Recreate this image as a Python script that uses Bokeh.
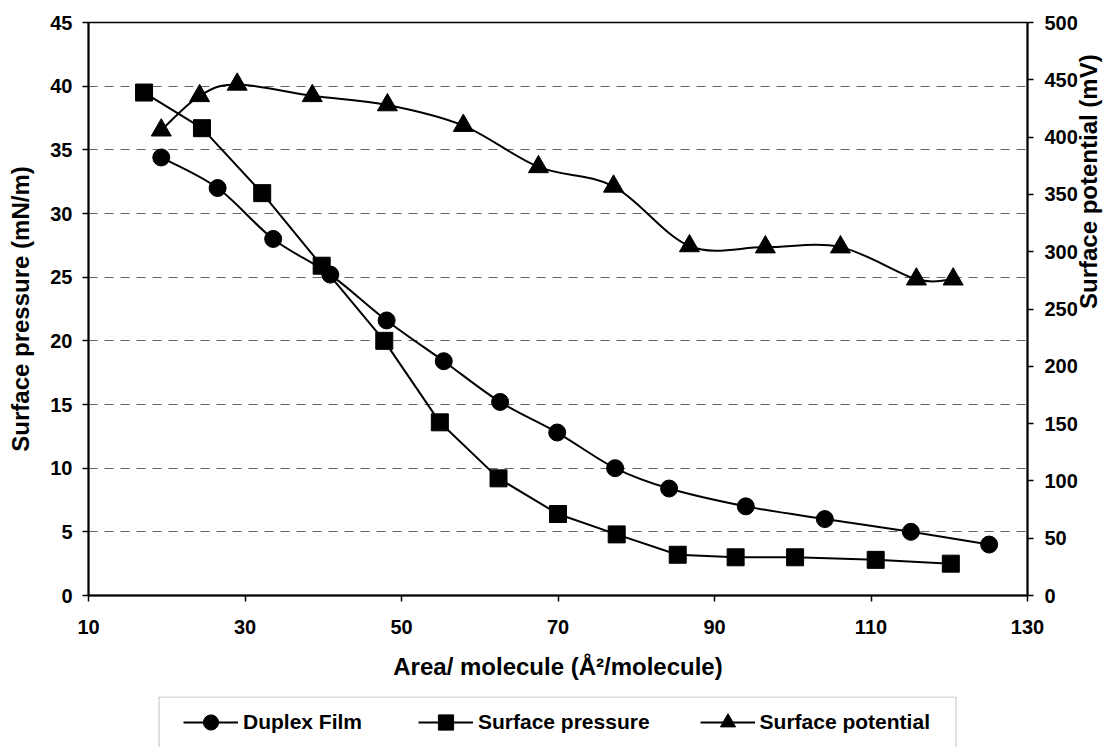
import math
from bokeh.plotting import figure
from bokeh.layouts import column
from bokeh.models import (Range1d, LinearAxis, FixedTicker, Legend, LegendItem,
                          ColumnDataSource, BoxAnnotation)
from bokeh.embed import file_html
from bokeh.resources import INLINE

# Area per molecule (Å²/molecule) and measured values for each series
area_duplex = [19.3, 26.5, 33.6, 40.9, 48.1, 55.4, 62.6, 69.9, 77.3, 84.2, 94.0, 104.1, 115.1, 125.1]
duplex_film = [34.4, 32.0, 28.0, 25.2, 21.6, 18.4, 15.2, 12.8, 10.0, 8.4, 7.0, 6.0, 5.0, 4.0]

area_pressure = [17.1, 24.5, 32.2, 39.8, 47.8, 54.9, 62.4, 70.0, 77.5, 85.3, 92.7, 100.3, 110.6, 120.2]
surface_pressure = [39.5, 36.7, 31.6, 25.9, 20.0, 13.6, 9.2, 6.4, 4.8, 3.2, 3.0, 3.0, 2.8, 2.5]

area_potential = [19.3, 24.2, 29.0, 38.6, 48.2, 57.9, 67.5, 77.1, 86.8, 96.5, 106.1, 115.8, 120.5]
surface_potential = [406, 436, 446, 436, 428, 410, 374, 357, 305, 304, 304, 276, 276]

series_names = ["Duplex Film", "Surface pressure", "Surface potential"]

x_ticks = [10, 30, 50, 70, 90, 110, 130]
left_ticks = [0, 5, 10, 15, 20, 25, 30, 35, 40, 45]
grid_ticks = [5, 10, 15, 20, 25, 30, 35, 40]
right_ticks = [0, 50, 100, 150, 200, 250, 300, 350, 400, 450, 500]

FONT = "Liberation Sans"
BORDER_L, BORDER_R = 88, 89


def smooth_segments(xs, ys, k=1.0 / 6.0):
    """Cubic Bezier pieces (Catmull-Rom style) through the given points."""
    n = len(xs)
    seg = dict(x0=[], y0=[], x1=[], y1=[], cx0=[], cy0=[], cx1=[], cy1=[])
    for i in range(n - 1):
        xp, yp = (xs[i - 1], ys[i - 1]) if i > 0 else (xs[i], ys[i])
        xn, yn = (xs[i + 2], ys[i + 2]) if i + 2 < n else (xs[i + 1], ys[i + 1])
        seg["x0"].append(xs[i])
        seg["y0"].append(ys[i])
        seg["x1"].append(xs[i + 1])
        seg["y1"].append(ys[i + 1])
        seg["cx0"].append(xs[i] + (xs[i + 1] - xp) * k)
        seg["cy0"].append(ys[i] + (ys[i + 1] - yp) * k)
        seg["cx1"].append(xs[i + 1] - (xn - xs[i]) * k)
        seg["cy1"].append(ys[i + 1] - (yn - ys[i]) * k)
    return ColumnDataSource(seg)


p = figure(width=1118, height=696, output_backend="svg", toolbar_location=None,
           x_range=Range1d(10, 130), y_range=Range1d(0, 45),
           min_border_left=BORDER_L, min_border_right=BORDER_R, min_border_top=22,
           min_border_bottom=101)
p.background_fill_color = "white"
p.border_fill_color = "white"
p.outline_line_color = "black"
p.outline_line_width = 1.5

p.extra_y_ranges = {"pot": Range1d(0, 500)}

# grid: dashed horizontal lines only
p.xgrid.visible = False
p.ygrid.ticker = FixedTicker(ticks=grid_ticks)
p.ygrid.grid_line_color = "#666666"
p.ygrid.grid_line_dash = "9 7"
p.ygrid.grid_line_width = 1.2


def style_axis(ax, ticks, tick_size="20px", standoff=10):
    ax.ticker = FixedTicker(ticks=ticks)
    ax.axis_line_color = "black"
    ax.axis_line_width = 2
    ax.major_tick_line_color = "black"
    ax.major_tick_line_width = 1.5
    ax.major_tick_out = 6
    ax.major_tick_in = 0
    ax.minor_tick_out = 0
    ax.minor_tick_in = 0
    ax.major_label_text_font = FONT
    ax.major_label_text_font_style = "bold"
    ax.major_label_text_font_size = tick_size
    ax.major_label_text_color = "black"
    ax.major_label_standoff = standoff
    ax.axis_label_text_font = FONT
    ax.axis_label_text_font_style = "bold"
    ax.axis_label_text_font_size = "24px"
    ax.axis_label_text_color = "black"


xa = p.xaxis[0]
style_axis(xa, x_ticks, standoff=18)
xa.axis_label = "Area/ molecule (Å²/molecule)"
xa.axis_label_standoff = 16

ya = p.yaxis[0]
style_axis(ya, left_ticks, standoff=10)
ya.axis_label = "Surface pressure (mN/m)"
ya.axis_label_standoff = 13

ra = LinearAxis(y_range_name="pot")
style_axis(ra, right_ticks, standoff=11)
ra.axis_label = "Surface potential (mV)"
ra.axis_label_standoff = 8
ra.axis_label_orientation = math.pi / 2
p.add_layout(ra, "right")

# series
p.bezier(x0="x0", y0="y0", x1="x1", y1="y1", cx0="cx0", cy0="cy0",
         cx1="cx1", cy1="cy1", source=smooth_segments(area_duplex, duplex_film),
         line_color="black", line_width=2)
p.scatter(area_duplex, duplex_film, marker="circle", size=17,
          fill_color="black", line_color="black")

p.line(area_pressure, surface_pressure, line_color="black", line_width=2)
p.scatter(area_pressure, surface_pressure, marker="square", size=17,
          fill_color="black", line_color="black")

p.bezier(x0="x0", y0="y0", x1="x1", y1="y1", cx0="cx0", cy0="cy0",
         cx1="cx1", cy1="cy1", source=smooth_segments(area_potential, surface_potential),
         line_color="black", line_width=2, y_range_name="pot")
p.scatter(area_potential, surface_potential, marker="triangle", size=20,
          fill_color="black", line_color="black", y_range_name="pot")

# legend strip under the chart (same side borders as the chart, so the two
# frames line up); its glyphs share the series data but the strip's ranges
# keep them out of view, so only the legend swatches show
leg = figure(width=1118, height=51, output_backend="svg", toolbar_location=None,
             x_axis_location=None, y_axis_location=None,
             min_border_left=BORDER_L, min_border_right=BORDER_R,
             min_border_top=0, min_border_bottom=0,
             x_range=Range1d(-2, -1), y_range=Range1d(-2, -1))
leg.grid.visible = False
leg.outline_line_color = None
leg.background_fill_color = "white"
leg.border_fill_color = "white"

leg.add_layout(BoxAnnotation(left=70.5, right=867.5, top=50.5, bottom=-20,
                             left_units="screen", right_units="screen",
                             top_units="screen", bottom_units="screen",
                             fill_alpha=0, line_color="#333333", line_width=1))

series = [(area_duplex, duplex_film, "circle", 17),
          (area_pressure, surface_pressure, "square", 17),
          (area_potential, surface_potential, "triangle", 20)]
items = []
for name, (xs, ys, mk, ms) in zip(series_names, series):
    rl = leg.line(xs, ys, line_color="black", line_width=2)
    rm = leg.scatter(xs, ys, marker=mk, size=ms, fill_color="black", line_color="black")
    items.append(LegendItem(label=name, renderers=[rl, rm]))

legend = Legend(
    items=items, orientation="horizontal", location=(88, -1),
    glyph_width=55, glyph_height=38, label_standoff=5, spacing=50,
    label_width=125, padding=7, margin=0,
    border_line_alpha=0, background_fill_alpha=0,
    label_text_font=FONT, label_text_font_style="bold",
    label_text_font_size="21px", label_text_color="black",
)
leg.add_layout(legend)

layout = column(p, leg, spacing=0)
open("out.html", "w").write(file_html(layout, INLINE))
